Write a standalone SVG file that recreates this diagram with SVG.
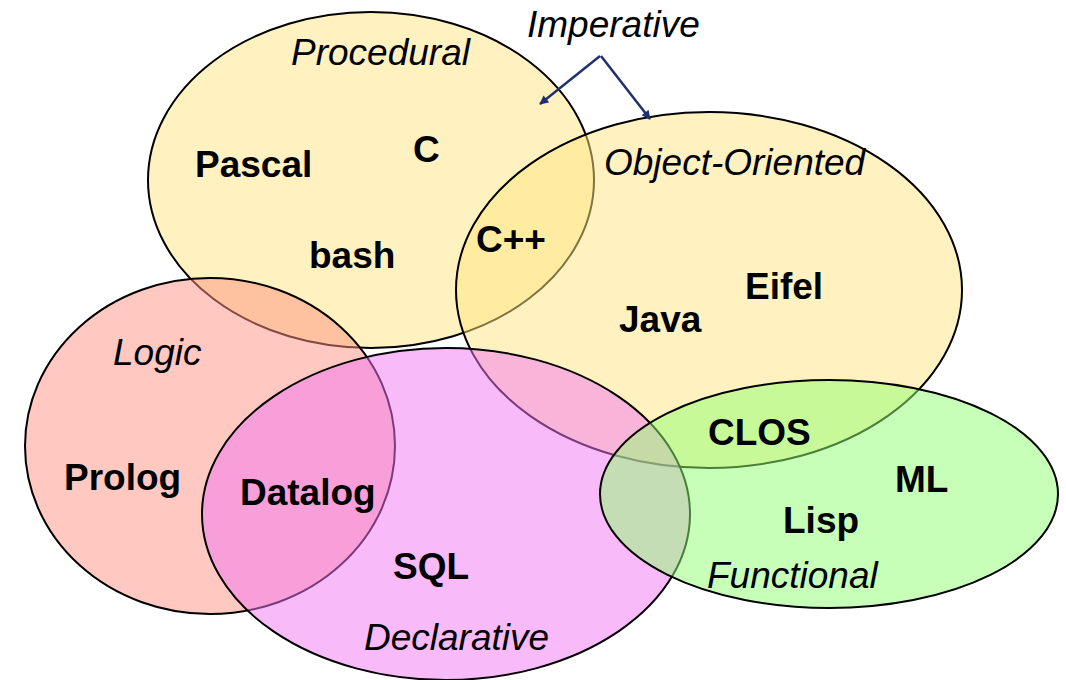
<svg xmlns="http://www.w3.org/2000/svg" width="1066" height="680" viewBox="0 0 1066 680">
  <style>
    .set { stroke: #000; stroke-width: 2; fill-opacity: 0.5; }
    .lang { font-family: "Liberation Sans", Arial, sans-serif; font-weight: bold; font-size: 37px; fill: #000; }
    .para { font-family: "Liberation Sans", Arial, sans-serif; font-style: italic; font-size: 37px; fill: #000; }
    .link { stroke: #1f3070; stroke-width: 2.5; fill: none; }
  </style>
  <defs>
    <marker id="head" viewBox="0 0 10 10" refX="9" refY="5" markerWidth="10" markerHeight="9" orient="auto" markerUnits="userSpaceOnUse">
      <path d="M0,0 L10,5 L0,10 z" fill="#1f3070"/>
    </marker>
  </defs>
  <rect width="1066" height="680" fill="#fff"/>

  <g id="procedural">
    <ellipse class="set" cx="371" cy="180" rx="223" ry="168" fill="#ffe581"/>
    <text class="para" x="291" y="65">Procedural</text>
    <text class="lang" x="195" y="177">Pascal</text>
    <text class="lang" x="413" y="162">C</text>
    <text class="lang" x="309" y="268">bash</text>
  </g>

  <g id="object-oriented">
    <ellipse class="set" cx="709" cy="290" rx="253" ry="178" fill="#ffe581"/>
    <text class="para" x="604" y="175">Object-Oriented</text>
    <text class="lang" x="476" y="252">C++</text>
    <text class="lang" x="745" y="299">Eifel</text>
    <text class="lang" x="619" y="332">Java</text>
  </g>

  <g id="logic">
    <ellipse class="set" cx="210" cy="446" rx="185" ry="168" fill="#ff9181"/>
    <text class="para" x="113" y="365">Logic</text>
    <text class="lang" x="64" y="490">Prolog</text>
  </g>

  <g id="declarative">
    <ellipse class="set" cx="446" cy="514" rx="244" ry="166" fill="#f276f2"/>
    <text class="lang" x="240" y="505">Datalog</text>
    <text class="lang" x="393" y="579">SQL</text>
    <text class="para" x="364" y="650">Declarative</text>
  </g>

  <g id="functional">
    <ellipse class="set" cx="829" cy="494" rx="229" ry="114" fill="#91ff71"/>
    <text class="lang" x="708" y="445">CLOS</text>
    <text class="lang" x="895" y="492">ML</text>
    <text class="lang" x="783" y="533">Lisp</text>
    <text class="para" x="707" y="588">Functional</text>
  </g>

  <g id="imperative">
    <text class="para" x="527" y="37">Imperative</text>
  </g>

  <g id="connectors">
    <line class="link" x1="600" y1="56" x2="540" y2="104" marker-end="url(#head)"/>
    <line class="link" x1="601" y1="56" x2="650" y2="119" marker-end="url(#head)"/>
  </g>
</svg>
